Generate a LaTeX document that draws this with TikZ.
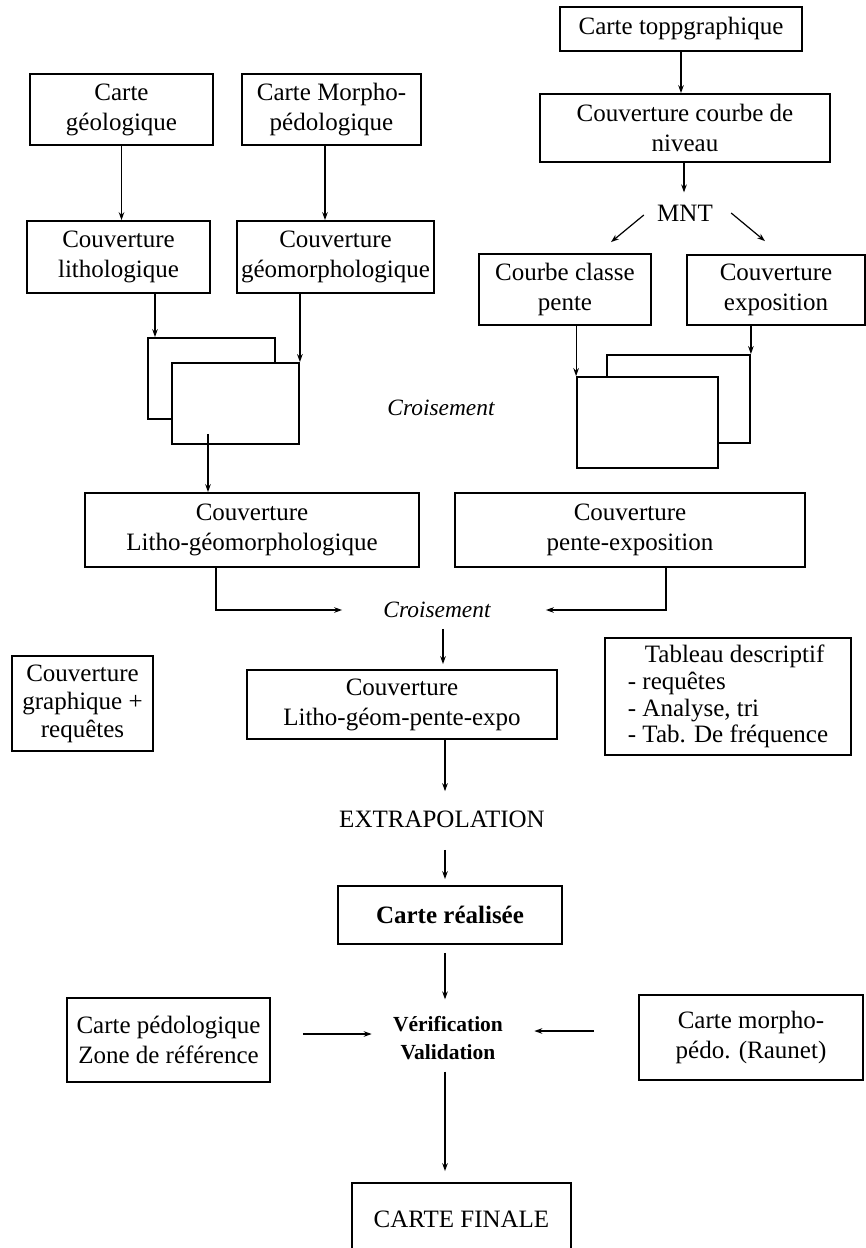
\documentclass[tikz,border=0pt]{standalone}
\usepackage{fontspec}
\setmainfont{Liberation Serif}
\usetikzlibrary{arrows.meta,calc}

\begin{document}
\begin{tikzpicture}[x=0.5pt,y=-0.5pt,
		boite/.style={draw,line width=0.9pt,align=center,inner sep=2pt,font=\fontsize{12.5}{15}\selectfont},
		feuille/.style={draw,line width=0.9pt,fill=white,inner sep=0pt},
		libre/.style={inner sep=0pt,align=center,font=\fontsize{12.5}{15}\selectfont},
		fleche/.style={-{Stealth[length=4pt,width=2.8pt]},line width=0.6pt}]
			\useasboundingbox (0,0) rectangle (866,1248);
			\node[boite,minimum width=121pt,minimum height=22pt] (topo) at (681,29) {Carte toppgraphique};
			\node[boite,minimum width=145pt,minimum height=34pt] (niveau) at (685,128) {Couverture courbe de\\niveau};
			\node[libre] (mnt) at (685,213) {MNT};
			\node[boite,minimum width=86pt,minimum height=35.5pt] (pente) at (565,289.5) {Courbe classe\\pente};
			\node[boite,minimum width=89pt,minimum height=35pt] (expo) at (776,290) {Couverture\\exposition};
			\node[boite,minimum width=91.5pt,minimum height=35.5pt] (geol) at (121.5,109.5) {Carte\\géologique};
			\node[boite,minimum width=89.5pt,minimum height=35.5pt] (morpho) at (331.5,109.5) {Carte Morpho-\\pédologique};
			\node[boite,minimum width=91.5pt,minimum height=36pt] (litho) at (118.5,257) {Couverture\\lithologique};
			\node[boite,minimum width=98.5pt,minimum height=36pt] (geom) at (335.5,257) {Couverture\\géomorphologique};
			\node[feuille,minimum width=63.5pt,minimum height=40.5pt] (dosG) at (211.5,378.5) {};
			\node[feuille,minimum width=63.5pt,minimum height=40.5pt] (devantG) at (235.5,403.5) {};
			\node[feuille,minimum width=71.5pt,minimum height=44pt] (dosD) at (678.5,399) {};
			\node[feuille,minimum width=70.5pt,minimum height=45.5pt] (devantD) at (647.5,422.5) {};
			\node[libre,font=\fontsize{11.7}{14}\selectfont\itshape] (crois1) at (441,408) {Croisement};
			\node[boite,minimum width=167pt,minimum height=37pt] (cLG) at (252,530) {Couverture\\Litho-géomorphologique};
			\node[boite,minimum width=175pt,minimum height=37pt] (cPE) at (630,530) {Couverture\\pente-exposition};
			\node[libre,font=\fontsize{11.7}{14}\selectfont\itshape] (crois2) at (437,610) {Croisement};
			\node[boite,minimum width=70.5pt,minimum height=47.5pt,font=\fontsize{12.5}{14}\selectfont] (graph) at (82.5,703.5) {Couverture\\graphique +\\requêtes};
			\node[boite,minimum width=155pt,minimum height=34.5pt] (cLGPE) at (402,704.5) {Couverture\\Litho-géom-pente-expo};
			\node[boite,align=left,minimum width=123pt,minimum height=58.5pt,font=\fontsize{12.5}{13.4}\selectfont] (tableau) at (728,696.5) {\hspace*{8.5pt}Tableau descriptif\\- requêtes\\- Analyse, tri\\- Tab. De fréquence};
			\node[libre] (extra) at (442,819) {EXTRAPOLATION};
			\node[boite,minimum width=112pt,minimum height=29pt,font=\fontsize{12.5}{15}\selectfont\bfseries] (realisee) at (450,915) {Carte réalisée};
			\node[libre,font=\fontsize{10.75}{14}\selectfont\bfseries] (verif) at (448,1038) {Vérification\\Validation};
			\node[boite,minimum width=101.5pt,minimum height=42pt] (pedo) at (168.5,1040) {Carte pédologique\\Zone de référence};
			\node[boite,minimum width=112pt,minimum height=42.5pt] (raunet) at (751,1037.5) {Carte morpho-\\pédo. (Raunet)};
			\node[boite,minimum width=109.5pt,minimum height=36pt] (finale) at (461.5,1219) {CARTE FINALE};
			\draw[fleche] (topo) -- (topo |- niveau.north);
			\draw[fleche,shorten >=6pt] (niveau.south -| 684,0) -- (mnt.north -| 684,0);
			\draw[fleche] ($(mnt.west)+(-13,2)$) -- ($(pente.north)+(46,-11)$);
			\draw[fleche] ($(mnt.east)+(18,0)$) -- ($(expo.north)+(-11,-13)$);
			\draw[fleche] (geol) -- (geol |- litho.north);
			\draw[fleche] (morpho.south -| 325,0) -- (geom.north -| 325,0);
			\draw[fleche] (litho.south -| 155,0) -- (dosG.north -| 155,0);
			\draw[fleche] (geom.south -| devantG.north east) -- (devantG.north east);
			\draw[fleche] ($(devantG.south -| 208,0)+(0,-11)$) -- (cLG.north -| 208,0);
			\draw[fleche] (pente.south -| devantD.north west) -- (devantD.north west);
			\draw[fleche] (expo.south -| dosD.north east) -- (dosD.north east);
			\draw[fleche,shorten >=20.5pt] ($(cLG.south)+(-36,0)$) |- (crois2.west);
			\draw[fleche,shorten >=27.5pt] ($(cPE.south)+(36,0)$) |- (crois2.east);
			\draw[fleche,shorten <=5.25pt,shorten >=2.5pt] (crois2.south -| 443,0) -- (cLGPE.north -| 443,0);
			\draw[fleche,shorten >=9.5pt] (cLGPE.south -| 445,0) -- (extra.north -| 445,0);
			\draw[fleche,shorten <=11pt,shorten >=3pt] (extra.south -| 445,0) -- (realisee.north -| 445,0);
			\draw[fleche,shorten <=4pt,shorten >=8.25pt] (realisee.south -| 445,0) -- (verif.north -| 445,0);
			\draw[fleche,shorten <=5.75pt,shorten >=5.5pt] (verif.south -| 445,0) -- (finale.north -| 445,0);
			\draw[fleche,shorten <=16pt,shorten >=10.5pt] (pedo.east |- 0,1034) -- (verif.west |- 0,1034);
			\draw[fleche,shorten <=22pt,shorten >=15.5pt] (raunet.west |- 0,1031) -- (verif.east |- 0,1031);
		\end{tikzpicture}
\end{document}
